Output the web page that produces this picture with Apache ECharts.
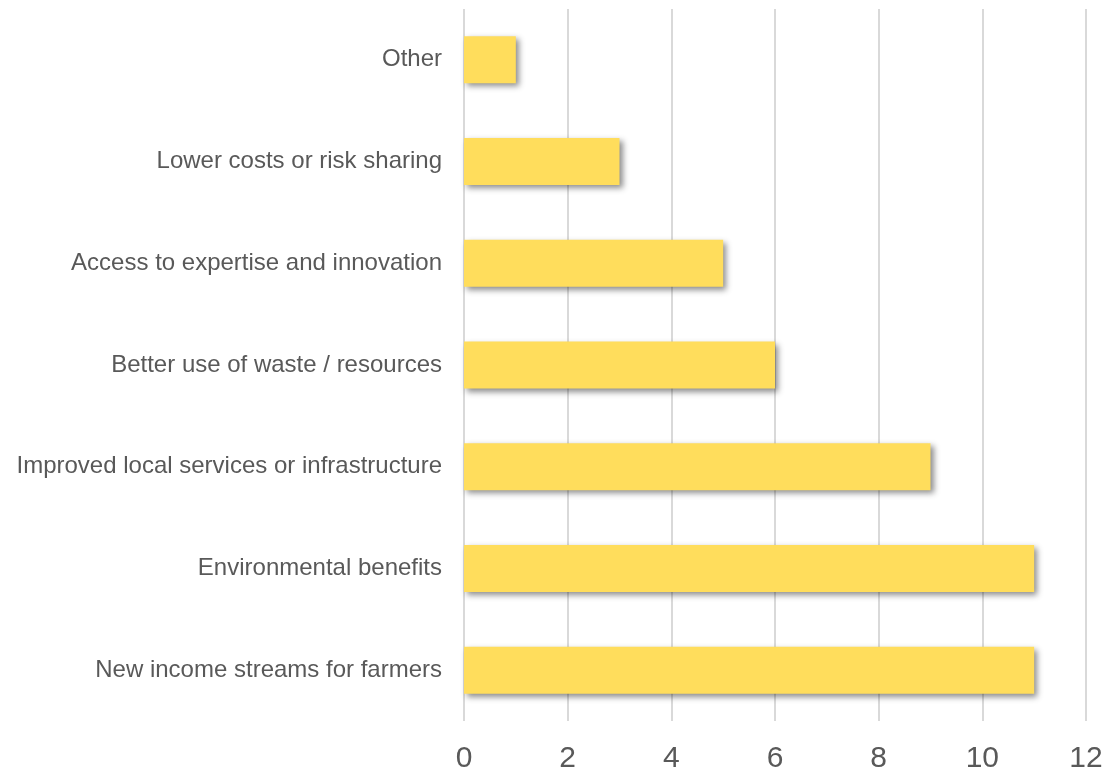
<!DOCTYPE html>
<html><head><meta charset="utf-8">
<script src="https://cdn.jsdelivr.net/npm/echarts@6/dist/echarts.min.js"></script>
<style>html,body{margin:0;padding:0;background:#fff}#c{width:1115px;height:771px}</style>
</head><body><div id="c"></div>
<script>
const categories = ["New income streams for farmers","Environmental benefits","Improved local services or infrastructure","Better use of waste / resources","Access to expertise and innovation","Lower costs or risk sharing","Other"];
const values = [11, 11, 9, 6, 5, 3, 1];
const xTicks = [0, 2, 4, 6, 8, 10, 12];

const chart = echarts.init(document.getElementById('c'), null, {renderer:'canvas'});
chart.setOption({
  animation: false,
  grid: {left: 464, right: 29, top: 9, bottom: 50, containLabel: false, outerBoundsMode: 'none'},
  xAxis: {
    type: 'value', min: xTicks[0], max: xTicks[xTicks.length-1], interval: 2,
    axisLine: {show: false}, axisTick: {show: false},
    splitLine: {show: true, lineStyle: {color: '#d9d9d9', width: 2}},
    axisLabel: {color: '#595959', fontSize: 30, fontFamily: 'Liberation Sans, Arial, sans-serif', margin: 23}
  },
  yAxis: {
    type: 'category', data: categories,
    axisLine: {show: false}, axisTick: {show: false},
    axisLabel: {color: '#595959', fontSize: 24, fontFamily: 'Liberation Sans, Arial, sans-serif', margin: 22, padding: [5,0,0,0]}
  },
  series: [{
    type: 'bar', data: values, barWidth: 47,
    itemStyle: {color: '#FFDD5C', shadowColor: 'rgba(0,0,0,0.45)', shadowBlur: 6, shadowOffsetX: 3, shadowOffsetY: 3}
  }]
});
</script></body></html>
